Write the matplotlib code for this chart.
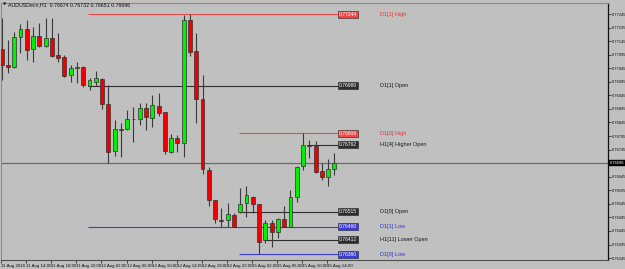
import matplotlib
matplotlib.use("Agg")
import matplotlib.pyplot as plt
import matplotlib.transforms as mtransforms
import numpy as np

plt.rcParams['font.family'] = ['Liberation Sans Narrow', 'Liberation Sans', 'DejaVu Sans']

symbol = "AUDUSDecn,H1"

# H1 bars, 11 Aug 2016 10:00 -> 15 Aug 2016 15:00
opens = [0.77116, 0.77057, 0.77050, 0.77160, 0.77190, 0.77116, 0.77164, 0.77127, 0.77157, 0.77094,
         0.77086, 0.77020, 0.77046, 0.77050, 0.76980, 0.76994, 0.77005, 0.76913, 0.76740, 0.76821,
         0.76821, 0.76858, 0.76858, 0.76898, 0.76862, 0.76906, 0.76884, 0.76736, 0.76787, 0.76769,
         0.77223, 0.77109, 0.76932, 0.76670, 0.76559, 0.76487, 0.76485, 0.76504, 0.76515, 0.76549,
         0.76570, 0.76544, 0.76412, 0.76474, 0.76441, 0.76489, 0.76459, 0.76570, 0.76685, 0.76762,
         0.76758, 0.76666, 0.76644, 0.76674]
highs = [0.77230, 0.77149, 0.77179, 0.77208, 0.77223, 0.77197, 0.77212, 0.77230, 0.77230, 0.77175,
         0.77094, 0.77057, 0.77068, 0.77053, 0.77009, 0.77035, 0.77009, 0.76983, 0.76854, 0.76843,
         0.76891, 0.76902, 0.76917, 0.76917, 0.76946, 0.76954, 0.76884, 0.76802, 0.76798, 0.77241,
         0.77244, 0.77175, 0.77020, 0.76681, 0.76559, 0.76530, 0.76549, 0.76512, 0.76604, 0.76611,
         0.76574, 0.76544, 0.76485, 0.76485, 0.76493, 0.76537, 0.76596, 0.76685, 0.76806, 0.76780,
         0.76776, 0.76696, 0.76710, 0.76732]
lows = [0.77002, 0.77029, 0.77046, 0.77101, 0.77075, 0.77068, 0.77123, 0.77123, 0.77086, 0.77068,
        0.77013, 0.76994, 0.76991, 0.76976, 0.76965, 0.76980, 0.76895, 0.76696, 0.76721, 0.76718,
        0.76817, 0.76773, 0.76836, 0.76817, 0.76828, 0.76869, 0.76729, 0.76732, 0.76736, 0.76718,
        0.77090, 0.76843, 0.76655, 0.76537, 0.76474, 0.76459, 0.76459, 0.76459, 0.76512, 0.76497,
        0.76512, 0.76360, 0.76401, 0.76386, 0.76419, 0.76459, 0.76459, 0.76553, 0.76670, 0.76714,
        0.76658, 0.76633, 0.76611, 0.76651]
closes = [0.77057, 0.77051, 0.77160, 0.77190, 0.77112, 0.77164, 0.77127, 0.77157, 0.77090, 0.77083,
          0.77016, 0.77046, 0.77050, 0.76983, 0.77002, 0.77009, 0.76913, 0.76736, 0.76821, 0.76819,
          0.76858, 0.76857, 0.76898, 0.76865, 0.76909, 0.76880, 0.76740, 0.76787, 0.76769, 0.77223,
          0.77105, 0.76932, 0.76674, 0.76559, 0.76489, 0.76483, 0.76508, 0.76461, 0.76544, 0.76578,
          0.76544, 0.76404, 0.76474, 0.76441, 0.76489, 0.76460, 0.76570, 0.76681, 0.76762, 0.76760,
          0.76662, 0.76644, 0.76674, 0.76696]

time_labels = ["11 Aug 2016", "11 Aug 14:00", "11 Aug 18:00", "11 Aug 22:00", "12 Aug 02:00",
               "12 Aug 06:00", "12 Aug 10:00", "12 Aug 14:00", "12 Aug 18:00", "12 Aug 22:00",
               "15 Aug 02:00", "15 Aug 06:00", "15 Aug 10:00", "15 Aug 14:00"]
label_step = 4

level_names = ["D1[1] High", "D1[1] Open", "D1[0] High", "H1[4] Higher Open",
               "D1[0] Open", "D1[1] Low", "H1[11] Lower Open", "D1[0] Low"]
level_prices = [0.77244, 0.76980, 0.76806, 0.76762, 0.76515, 0.76460, 0.76412, 0.76360]
level_start = [14, 14, 38, 49, 38, 14, 42, 38]
level_kind = ["high", "open", "high", "open", "open", "low", "open", "low"]

bg = "#c0c0c0"
kind_color = {"high": "#f04848", "open": "#2e2e2e", "low": "#3c3cd8"}
kind_text = {"high": "#f03030", "open": "#1a1a1a", "low": "#3030d8"}

fig = plt.figure(figsize=(6.25, 2.69), dpi=100, facecolor=bg)
ax = fig.add_axes([1 / 625, 1 - 260 / 269, 607 / 625, 257 / 269], facecolor=bg)

n = len(opens)
x = np.arange(n)
o = np.array(opens); h = np.array(highs); l = np.array(lows); c = np.array(closes)
last = n - 1

# current price line
ax.axhline(closes[-1], color="#6a6a6a", lw=0.9, zorder=1)

# level lines + price boxes + names
for name, price, start, kind in zip(level_names, level_prices, level_start, level_kind):
    col = kind_color[kind]
    ax.hlines(price, start - 0.2, last + 0.6, color=col, lw=0.8, zorder=1)
    ax.text(last + 0.75, price, f"{price:.5f}", fontsize=3.6, color="white",
            va="center", ha="left", zorder=5,
            bbox=dict(boxstyle="square,pad=0.2", fc=col, ec="#202020", lw=0.4))
    ax.text(last + 7.3, price, name, fontsize=4.0, color=kind_text[kind],
            va="center", ha="left", zorder=5)

# candles
up = c >= o
ax.vlines(x, l, h, color="#3a3a3a", lw=0.8, zorder=2)
body_lo = np.minimum(o, c)
body_h = np.maximum(np.abs(c - o), 0.000012)
ax.bar(x, body_h, bottom=body_lo, width=0.62,
       color=np.where(up, "#00f000", "#f00000"), edgecolor="#303030", lw=0.5, zorder=3)

ax.set_xlim((1 - 1.5) / 6.28, (608 - 1.5) / 6.28)
ax.set_ylim(0.763379, 0.772856)

# axes styling
for side in ["top", "left"]:
    ax.spines[side].set_color("#8a8a8a")
    ax.spines[side].set_linewidth(0.8)
ax.spines["right"].set_color("#101010")
ax.spines["right"].set_linewidth(0.9)
ax.spines["bottom"].set_color("#505050")
ax.spines["bottom"].set_linewidth(0.8)

yticks = np.arange(0.76345, 0.77246, 0.0005)
ax.yaxis.tick_right()
ax.set_yticks(yticks)
# the tick hidden under the current-price box gets no text
ax.set_yticklabels(["" if abs(v - closes[-1]) < 0.0002 else f"{v:.5f}" for v in yticks])
ax.tick_params(axis="y", direction="out", length=2.2, width=0.5, pad=0.6,
               labelsize=2.9, colors="#101010")

ax.set_xticks(np.arange(0, len(time_labels) * label_step, label_step) - 0.1)
ax.set_xticklabels(time_labels)
ax.tick_params(axis="x", direction="out", length=2.5, width=0.5, pad=0.5,
               labelsize=3.2, colors="#101010")
for t in ax.get_xticklabels():
    t.set_ha("left")

# current price box on the price scale
tr = mtransforms.blended_transform_factory(ax.transAxes, ax.transData)
ax.text(1.003, closes[-1], f"{closes[-1]:.5f}", transform=tr, fontsize=2.9,
        color="white", va="center", ha="left", zorder=10, clip_on=False,
        bbox=dict(boxstyle="square,pad=0.2", fc="black", ec="black", lw=0.3))

# header
fig.text(3 / 625, 1 - 5 / 269, "\u25bc", fontsize=3.2, color="#202020", va="center", ha="left",
         family=["DejaVu Sans"])
fig.text(8 / 625, 1 - 5 / 269,
         f"{symbol}  {opens[-1]:.5f} {highs[-1]:.5f} {lows[-1]:.5f} {closes[-1]:.5f}",
         fontsize=3.8, color="#101010", va="center", ha="left")

fig.savefig("out.png", dpi=100, facecolor=bg)
plt.close(fig)
